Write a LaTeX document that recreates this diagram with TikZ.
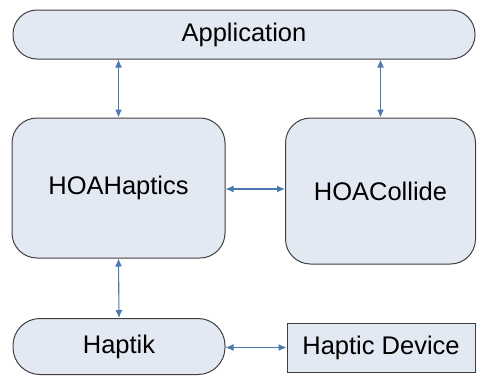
\documentclass[tikz,border=0pt]{standalone}
\usepackage{fontspec}
\setmainfont{Liberation Sans}
\usetikzlibrary{arrows.meta}
\definecolor{boxfill}{HTML}{E3E9F3}
\definecolor{boxline}{HTML}{404040}
\definecolor{arr}{HTML}{4A78B0}
\begin{document}
\begin{tikzpicture}[x=1pt,y=-1pt,
  box/.style={draw=boxline,fill=boxfill,line width=1pt,inner sep=0pt,font=\fontsize{25.5}{29}\selectfont},
  link/.style={draw=arr,line width=1.1pt,{Latex[length=8pt,width=7pt]}-{Latex[length=8pt,width=7pt]}}]
\useasboundingbox (0,0) rectangle (477,376);
\node[box,rounded corners=24pt,minimum width=462pt,minimum height=49pt] (app) at (244,34.5) {Application};
\node[box,rounded corners=25pt,minimum width=213pt,minimum height=140pt] (hh) at (118.5,188) {HOAHaptics};
\node[box,rounded corners=25pt,minimum width=190pt,minimum height=146pt] (hc) at (380.5,191) {HOACollide};
\node[box,rounded corners=27pt,minimum width=212pt,minimum height=56pt] (hk) at (119,346.5) {Haptik};
\node[box,minimum width=188pt,minimum height=49pt] (hd) at (381,347.5) {Haptic Device};
\draw[link] (hh.north |- app.south) -- (hh.north);
\draw[link] (hc.north |- app.south) -- (hc.north);
\draw[link] (hh.east |- 0,189) -- (hc.west |- 0,189);
\draw[link] (hh.south) -- (hk.north);
\draw[link] (hk.east |- hd.west) -- (hd.west);
\end{tikzpicture}
\end{document}
